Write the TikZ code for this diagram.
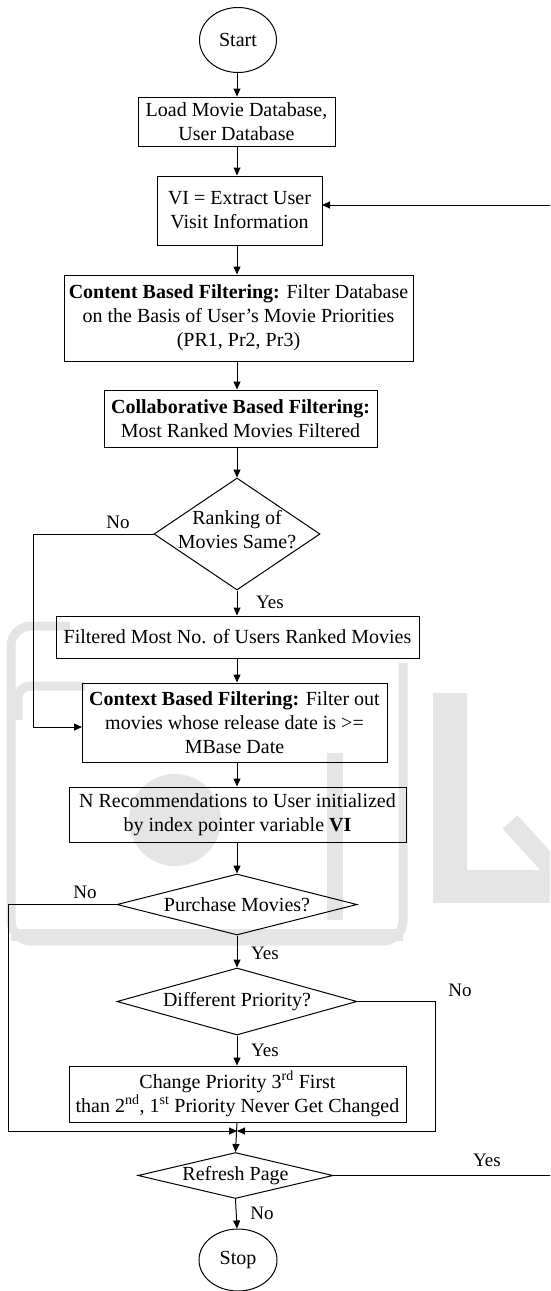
\documentclass[tikz,border=0pt]{standalone}
\usepackage{fontspec}
\setmainfont{Liberation Serif}
\usetikzlibrary{shapes.geometric,arrows.meta}

\newcommand\flowfont{\fontsize{20}{24}\selectfont}
\newcommand\tagfont{\fontsize{19}{22}\selectfont}
\definecolor{logogray}{gray}{0.9}

\tikzset{
  stepbox/.style={draw, rectangle, line width=1pt, inner sep=0pt, align=center, font=\flowfont},
  term/.style={draw, ellipse, line width=1pt, inner sep=0pt, font=\flowfont},
  decide/.style={draw, diamond, line width=1pt, inner sep=0pt},
  decidetext/.style={inner sep=0pt, align=center, font=\flowfont},
  tag/.style={inner sep=0pt, font=\tagfont},
  flow/.style={line width=1pt, -{Triangle[length=8pt,width=7pt]}},
  logo/.style={draw=logogray, line width=14pt, line cap=butt}
}

\begin{document}
\begin{tikzpicture}[x=1pt,y=1pt]
  \useasboundingbox (0,0) rectangle (550,-1291);
  \clip (0,0) rectangle (550,-1291);

  % faint logo behind the chart
  \draw[logo, line width=9pt, rounded corners=20pt] (70,-626) -- (11,-626) -- (11,-941) -- (403,-941) -- (403,-663);
  \draw[logo, line width=9pt, rounded corners=12pt] (85,-686) -- (18,-686) -- (18,-720);
  \draw[logo, line width=12pt] (11,-935) -- (403,-935);
  \fill[logogray] (327,-753) rectangle (343,-920);
  \fill[logogray] (175,-820) circle (46);
  \fill[logogray] (433,-693) rectangle (467,-903);
  \fill[logogray] (467,-870) rectangle (550,-903);
  \draw[logo, line width=20pt] (510,-822) -- (552,-868);

  % column of the main flow
  \coordinate (col) at (237,0);

  \node[term, minimum width=77pt, minimum height=65pt] (start) at (238,-40) {Start};
  \node[stepbox, minimum width=197pt, minimum height=49pt] (load) at (236.5,-121.5)
    {Load Movie Database,\\User Database};
  \node[stepbox, minimum width=165pt, minimum height=69pt] (vi) at (239.5,-210.5)
    {VI = Extract User\\Visit Information};
  \node[stepbox, minimum width=349pt, minimum height=86pt] (content) at (238.5,-318)
    {\textbf{Content Based Filtering:} Filter Database\\on the Basis of User's Movie Priorities\\(PR1, Pr2, Pr3)};
  \node[stepbox, minimum width=273pt, minimum height=57pt] (collab) at (240.5,-418.5)
    {\textbf{Collaborative Based Filtering:}\\Most Ranked Movies Filtered};

  \node[decide, minimum width=166pt, minimum height=112pt] (rank) at (237,-534) {};
  \node[decidetext] (rank-t) at (237,-530) {Ranking of\\Movies Same?};

  \node[stepbox, minimum width=363pt, minimum height=42pt] (filtered) at (237.5,-637)
    {Filtered Most No. of Users Ranked Movies};
  \node[stepbox, minimum width=305pt, minimum height=79pt] (context) at (234.5,-722.5)
    {\textbf{Context Based Filtering:} Filter out\\movies whose release date is >=\\MBase Date};
  \node[stepbox, minimum width=337pt, minimum height=55pt] (nrec) at (237.5,-814.5)
    {N Recommendations to User initialized\\by index pointer variable \textbf{VI}};

  \node[decide, minimum width=240pt, minimum height=61pt] (buy) at (237,-904.5) {};
  \node[decidetext] (buy-t) at (buy) {Purchase Movies?};

  \node[decide, minimum width=240pt, minimum height=67pt] (diff) at (237,-1001.5) {};
  \node[decidetext] (diff-t) at (diff) {Different Priority?};

  \node[stepbox, minimum width=337pt, minimum height=56pt] (change) at (237.5,-1094)
    {Change Priority 3\textsuperscript{rd} First\\than 2\textsuperscript{nd}, 1\textsuperscript{st} Priority Never Get Changed};

  \node[decide, minimum width=195pt, minimum height=46pt] (refresh) at (235.5,-1175.5) {};
  \node[decidetext] (refresh-t) at (refresh) {Refresh Page};

  \node[term, minimum width=78pt, minimum height=62pt] (stop) at (238,-1260) {Stop};

  % main downward flow
  \draw[flow] (start.south -| col) -- (load.north -| col);
  \draw[flow] (load.south -| col) -- (vi.north -| col);
  \draw[flow] (vi.south -| col) -- (content.north -| col);
  \draw[flow] (content.south -| col) -- (collab.north -| col);
  \draw[flow] (collab.south -| col) -- (rank.north);
  \draw[flow] (rank.south) -- (filtered.north -| col);
  \draw[flow] (filtered.south -| col) -- (context.north -| col);
  \draw[flow] (context.south -| col) -- (nrec.north -| col);
  \draw[flow] (nrec.south -| col) -- (buy.north);
  \draw[flow] (buy.south) -- (diff.north);
  \draw[flow] (diff.south) -- (change.north -| col);
  \draw[flow] (change.south -| col) -- (refresh.north);
  \draw[flow] (refresh.south) -- (stop.north -| col);

  % branches
  \coordinate (ctx-in) at (82,-727);
  \draw[flow] (rank.west) -- (33,-534) |- (ctx-in);

  \coordinate (join) at (237,-1131);
  \draw[flow] (buy.west) -- (8,-904.5) |- (join);
  \draw[flow] (diff.east) -- (435,-1001.5) |- (join);

  \coordinate (vi-in) at (322,-205);
  \draw[flow] (refresh.east) -- (570,-1175.5) |- (vi-in);

  % branch labels
  \node[tag] (rank-no) at (118,-522) {No};
  \node[tag] (rank-yes) at (270,-602) {Yes};
  \node[tag] (buy-no) at (85,-892) {No};
  \node[tag] (buy-yes) at (265,-953) {Yes};
  \node[tag] (diff-no) at (460,-990) {No};
  \node[tag] (diff-yes) at (265,-1050) {Yes};
  \node[tag] (refresh-yes) at (487,-1160) {Yes};
  \node[tag] (refresh-no) at (262,-1213) {No};
\end{tikzpicture}
\end{document}
